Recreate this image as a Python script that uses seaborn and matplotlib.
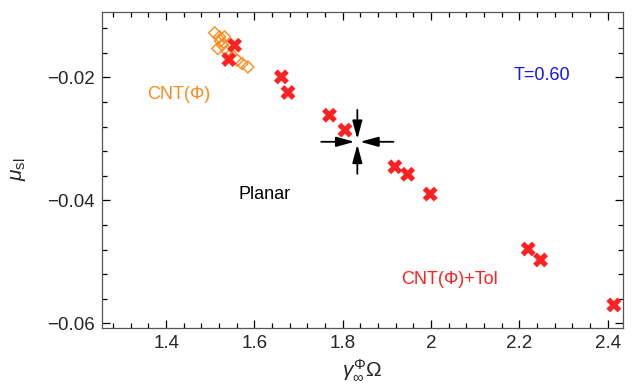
import numpy as np
import pandas as pd
import seaborn as sns
import matplotlib.pyplot as plt
from matplotlib.ticker import MultipleLocator

# CNT(Phi)+Tol points (red crosses)
tol_x = [1.555, 1.542, 1.661, 1.676, 1.770, 1.805, 1.918, 1.947, 1.998, 2.220, 2.248, 2.414]
tol_y = [-0.01475, -0.01708, -0.0199, -0.02244, -0.02613, -0.02856, -0.03452, -0.03574,
         -0.03896, -0.0479, -0.04968, -0.0570]

# CNT(Phi) points (orange open diamonds)
cnt_x = [1.510, 1.521, 1.532, 1.523, 1.527, 1.517, 1.538, 1.547, 1.561, 1.572, 1.585]
cnt_y = [-0.01275, -0.0134, -0.0134, -0.01405, -0.0147, -0.01529, -0.01568, -0.01621,
         -0.01719, -0.01773, -0.01828]

# planar reference point (crosshair of arrows)
planar_x = [1.833]
planar_y = [-0.03046]

xticks = [1.4, 1.6, 1.8, 2.0, 2.2, 2.4]
xticklabels = ["1.4", "1.6", "1.8", "2", "2.2", "2.4"]
yticks = [-0.02, -0.04, -0.06]
yticklabels = ["\u22120.02", "\u22120.04", "\u22120.06"]

red = "#ff2121"
orange = "#ff8a1c"

sns.set_style("ticks")
plt.rcParams["font.family"] = ["Liberation Sans", "DejaVu Sans"]
plt.rcParams["mathtext.fontset"] = "custom"
plt.rcParams["mathtext.rm"] = "Liberation Sans"
plt.rcParams["mathtext.it"] = "Liberation Sans:italic"

fig, ax = plt.subplots(figsize=(6.33, 3.85), dpi=100)
fig.subplots_adjust(left=0.161, right=0.9837, top=0.9696, bottom=0.1488)

tol = pd.DataFrame({"x": tol_x, "y": tol_y})
cnt = pd.DataFrame({"x": cnt_x, "y": cnt_y})

sns.scatterplot(data=cnt, x="x", y="y", ax=ax, marker="D", s=38,
                facecolor="none", edgecolor=orange, linewidth=1.0, zorder=3)
sns.scatterplot(data=tol, x="x", y="y", ax=ax, marker="X", s=115,
                color=red, edgecolor="none", linewidth=0, zorder=4)

# crosshair: four arrows pointing at the planar value
cx, cy = planar_x[0], planar_y[0]
for dx, dy in [(-26, 0), (26, 0), (0, 23), (0, -23)]:
    ax.annotate("", xy=(cx, cy), xytext=(dx, dy), textcoords="offset points",
                arrowprops=dict(arrowstyle="-|>,head_length=1.1,head_width=0.3",
                                color="black", lw=1.3, shrinkA=0, shrinkB=2))

ax.text(1.429, -0.0227, "CNT(\u03a6)", color=orange, fontsize=13, ha="center", va="center")
ax.text(2.25, -0.0197, "T=0.60", color="#1414ff", fontsize=13, ha="center", va="center")
ax.text(1.624, -0.0390, "Planar", color="black", fontsize=13, ha="center", va="center")
ax.text(2.041, -0.0529, "CNT(\u03a6)+Tol", color=red, fontsize=13, ha="center", va="center")

ax.set_xlim(1.2545, 2.434)
ax.set_ylim(-0.0607, -0.0093)
ax.set_xticks(xticks)
ax.set_xticklabels(xticklabels)
ax.set_yticks(yticks)
ax.set_yticklabels(yticklabels)
ax.xaxis.set_minor_locator(MultipleLocator(0.04))
ax.yaxis.set_minor_locator(MultipleLocator(0.004))
ax.tick_params(which="both", direction="in", top=True, right=True, labelsize=13.5,
               color="black", width=0.9)
ax.tick_params(which="major", length=5.5, pad=5)
ax.tick_params(which="minor", length=3.3)
for sp in ax.spines.values():
    sp.set_color("#555555")
    sp.set_linewidth(0.9)

ax.set_xlabel(r"$\gamma_{\infty}^{\Phi}\Omega$", fontsize=15, labelpad=4)
ax.set_ylabel(r"$\mu_{\rm sl}$", fontsize=15, labelpad=14)

plt.savefig("out.png", dpi=100)
plt.close()
